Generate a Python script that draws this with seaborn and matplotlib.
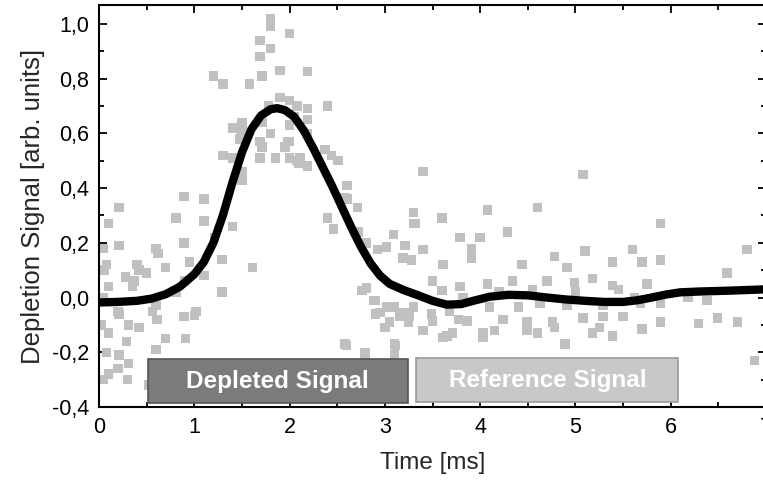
import matplotlib
matplotlib.use("Agg")
import matplotlib.pyplot as plt
import seaborn as sns
import pandas as pd
from matplotlib.patches import Rectangle
from matplotlib.ticker import MultipleLocator, FuncFormatter

# scatter data (Time [ms], Depletion signal)
scatter_x = [
    0.21, 0.10, 0.21, 0.08, 0.40, 0.28, 0.50, 0.10, 0.35, 0.21, 0.56, 0.61, 0.42, 0.10, 0.29,
    0.70, 0.60, 0.21, 0.31, 0.10, 0.91, 0.89, 1.02, 0.81, 0.60, 0.70, 0.81, 0.89, 0.89, 1.10,
    1.10, 1.21, 1.40, 1.29, 1.10, 1.29, 1.00, 1.61, 0.06, 0.37, 0.62, 0.02, 0.05, 0.08, 0.20,
    0.31, 0.42, 0.95, 0.90, 0.05, 0.20, 0.30, 0.60, 0.05, 0.52,
    1.80, 1.80, 2.00, 1.69, 1.80, 1.69, 1.20, 1.30, 1.58, 1.71, 1.90, 2.19, 2.40, 1.90, 2.08,
    2.19, 1.40, 1.50, 1.80, 2.00, 1.69, 1.30, 1.69, 2.00, 2.11, 2.44, 2.51, 1.48, 1.50, 1.50,
    2.37, 2.19, 1.98, 1.71, 1.40, 1.50, 1.50, 1.41, 1.71, 1.78, 2.00, 2.00, 2.19, 2.08, 1.85,
    1.95, 2.10, 2.19, 2.05,
    2.60, 2.58, 2.71, 2.40, 2.46, 2.72, 2.81, 2.92, 3.02, 3.09, 3.21, 3.30, 3.30, 3.40, 3.60,
    3.40, 3.19, 3.28, 3.61, 3.79, 4.00, 3.91, 3.91, 4.08, 3.50, 3.79, 2.81, 2.90, 3.02, 2.90,
    3.00, 3.16, 3.30, 3.40, 3.50, 3.61, 3.71, 3.86, 4.03, 2.60, 2.79, 3.11, 3.60, 3.68, 3.82,
    2.76, 2.88, 2.95, 3.10, 3.20, 3.25, 3.05, 2.58, 2.79, 3.10, 3.10, 2.61, 2.61, 3.32,
    5.08, 4.60, 5.89, 4.29, 6.80, 4.78, 5.10, 5.60, 5.39, 5.70, 5.89, 4.44, 4.91, 6.59, 4.08,
    4.34, 4.70, 4.99, 5.18, 5.39, 5.75, 4.10, 4.40, 4.63, 4.91, 5.29, 5.68, 5.89, 6.18, 6.38,
    3.49, 3.26, 3.77, 4.24, 4.49, 4.76, 5.08, 5.29, 5.50, 5.89, 6.29, 6.49, 6.70, 3.65, 4.03,
    4.49, 4.78, 5.18, 5.39, 5.70, 4.89, 6.88, 4.20, 4.55, 5.00, 5.45, 5.62, 4.15, 4.60, 5.25,
]
scatter_y = [
    0.33, 0.27, 0.19, 0.12, 0.12, 0.075, 0.09, 0.04, 0.04, -0.06, -0.05, -0.08, -0.11, -0.13, -0.16,
    -0.15, -0.19, -0.21, -0.24, -0.28, -0.15, -0.07, -0.05, 0.02, 0.18, 0.11, 0.29, 0.37, 0.20, 0.36,
    0.28, 0.22, 0.26, 0.14, 0.08, 0.02, -0.065, 0.11, 0.10, 0.06, 0.16, -0.10, 0.00, -0.20, -0.05,
    -0.10, 0.10, 0.13, 0.06, -0.30, -0.26, -0.30, -0.03, 0.18, -0.32,
    1.02, 0.99, 0.965, 0.94, 0.91, 0.88, 0.81, 0.78, 0.78, 0.81, 0.83, 0.825, 0.70, 0.73, 0.70,
    0.65, 0.62, 0.64, 0.60, 0.57, 0.57, 0.52, 0.51, 0.51, 0.51, 0.52, 0.50, 0.58, 0.46, 0.43,
    0.54, 0.48, 0.57, 0.55, 0.51, 0.58, 0.61, 0.62, 0.64, 0.70, 0.63, 0.72, 0.69, 0.50, 0.51,
    0.55, 0.49, 0.60, 0.66,
    0.41, 0.365, 0.33, 0.29, 0.25, 0.24, 0.20, 0.175, 0.185, 0.23, 0.19, 0.31, 0.27, 0.175, 0.29,
    0.46, 0.145, 0.137, 0.12, 0.22, 0.22, 0.18, 0.145, 0.32, 0.06, 0.04, 0.035, -0.01, -0.035, -0.06,
    -0.11, -0.07, -0.035, -0.12, -0.085, -0.145, -0.13, -0.085, -0.13, -0.175, -0.20, -0.175, 0.025, -0.05, 0.00,
    0.025, -0.01, -0.055, -0.035, -0.055, -0.09, -0.09, -0.17, -0.21, -0.17, -0.21, 0.36, 0.41, 0.27,
    0.45, 0.33, 0.27, 0.24, 0.175, 0.15, 0.17, 0.175, 0.13, 0.13, 0.137, 0.12, 0.11, 0.09, 0.05,
    0.06, 0.06, 0.055, 0.07, 0.045, 0.05, -0.035, -0.035, -0.02, -0.03, -0.03, -0.02, -0.02, 0.00, -0.01,
    -0.06, -0.07, -0.08, -0.08, -0.09, -0.09, -0.075, -0.07, -0.07, -0.09, -0.095, -0.075, -0.09, -0.14, -0.145,
    -0.12, -0.11, -0.13, -0.14, -0.115, -0.17, -0.23, 0.02, 0.03, 0.02, 0.03, 0.00, -0.12, -0.13, -0.11,
]

# smooth fit curve
curve_x = [0.0, 0.2, 0.4, 0.55, 0.7, 0.85, 1.0, 1.1, 1.2, 1.3, 1.4, 1.5, 1.6, 1.7, 1.8, 1.87,
           1.95, 2.05, 2.15, 2.25, 2.35, 2.45, 2.55, 2.65, 2.75, 2.85, 2.95, 3.05, 3.2, 3.35,
           3.5, 3.65, 3.8, 3.95, 4.1, 4.3, 4.5, 4.7, 4.9, 5.1, 5.3, 5.5, 5.65, 5.8, 5.95, 6.1,
           6.3, 6.6, 7.0]
curve_y = [-0.018, -0.016, -0.012, -0.004, 0.012, 0.04, 0.085, 0.13, 0.2, 0.3, 0.42, 0.53, 0.615,
           0.665, 0.688, 0.692, 0.685, 0.66, 0.61, 0.545, 0.475, 0.405, 0.33, 0.255, 0.185, 0.125,
           0.08, 0.05, 0.027, 0.008, -0.012, -0.026, -0.024, -0.01, 0.003, 0.01, 0.008, 0.0, -0.007,
           -0.012, -0.016, -0.016, -0.01, 0.0, 0.011, 0.019, 0.022, 0.025, 0.03]

# annotation boxes
box_labels = ["Depleted Signal", "Reference Signal"]
box_x0 = [0.51, 3.33]
box_x1 = [3.24, 6.08]
box_y0 = [-0.385, -0.38]
box_y1 = [-0.225, -0.22]
box_fill = ["#7b7b7b", "#c8c8c8"]
box_edge = ["#555555", "#9a9a9a"]

x_ticks = [0, 1, 2, 3, 4, 5, 6, 7]
y_ticks = [-0.4, -0.2, 0.0, 0.2, 0.4, 0.6, 0.8, 1.0]

sns.set_theme(style="white")
plt.rcParams['font.family'] = ['Liberation Sans', 'DejaVu Sans']

fig = plt.figure(figsize=(7.63, 4.91), dpi=100)
ax = fig.add_axes([99 / 763, 1 - 407 / 491, (766 - 99) / 763, (407 - 5) / 491])

df = pd.DataFrame({"t": scatter_x, "s": scatter_y})
sns.scatterplot(data=df, x="t", y="s", marker="s", s=46, color="#c0c0c0",
                edgecolor="none", linewidth=0, ax=ax, zorder=2)
cdf = pd.DataFrame({"t": curve_x, "s": curve_y})
sns.lineplot(data=cdf, x="t", y="s", color="black", linewidth=6, ax=ax, zorder=4,
             solid_joinstyle="round", solid_capstyle="butt", sort=False)

for lab, x0, x1, y0, y1, fc, ec in zip(box_labels, box_x0, box_x1, box_y0, box_y1, box_fill, box_edge):
    ax.add_patch(Rectangle((x0, y0), x1 - x0, y1 - y0, facecolor=fc, edgecolor=ec,
                           linewidth=1.2, zorder=5))
    ax.text((x0 + x1) / 2, (y0 + y1) / 2 - 0.003, lab, color="white", fontsize=17.5,
            fontweight="bold", ha="center", va="center", zorder=6)

ax.set_xlim(0, 7)
ax.set_ylim(-0.4, 1.069)
ax.set_xticks(x_ticks)
ax.set_yticks(y_ticks)
ax.xaxis.set_minor_locator(MultipleLocator(0.5))
ax.yaxis.set_minor_locator(MultipleLocator(0.1))
ax.yaxis.set_major_formatter(FuncFormatter(lambda v, p: f"{v:.1f}".replace(".", ",")))
ax.tick_params(which="both", direction="in", top=True, right=True, bottom=True, left=True,
               colors="black", labelsize=15.5, width=1.3)
ax.tick_params(which="major", length=6, pad=7)
ax.tick_params(which="minor", length=3.5)
for sp in ax.spines.values():
    sp.set_color("black")
    sp.set_linewidth(1.5)
ax.set_xlabel("Time [ms]", fontsize=17.5, labelpad=10)
ax.set_ylabel("Depletion Signal [arb. units]", fontsize=18.5, labelpad=5)
ax.grid(False)

fig.savefig("out.png", dpi=100)
